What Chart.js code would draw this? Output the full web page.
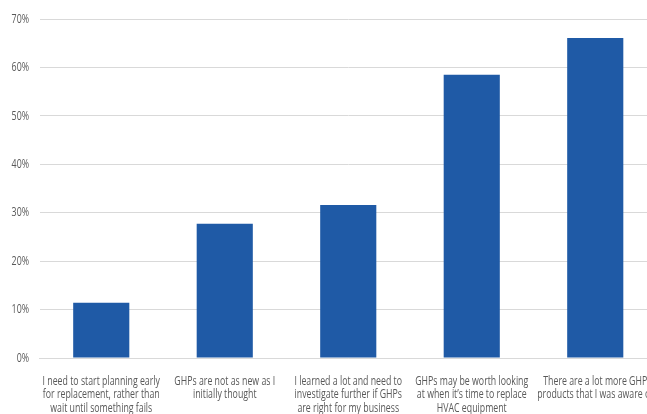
<!DOCTYPE html>
<html><head><meta charset="utf-8">
<script src="https://cdn.jsdelivr.net/npm/chart.js@4/dist/chart.umd.min.js"></script>
<style>
html,body{margin:0;padding:0;background:#fff;overflow:hidden;width:647px;height:414px;}
#wrap{position:absolute;left:0;top:0;width:657px;height:414px;}
</style></head>
<body><div id="wrap"><canvas id="c" width="657" height="414"></canvas></div>
<script>
const categories = [
  ["I need to start planning early","for replacement, rather than","wait until something fails"],
  ["GHPs are not as new as I","initially thought"],
  ["I learned a lot and need to","investigate further if GHPs","are right for my business"],
  ["GHPs may be worth looking","at when it\u2019s time to replace","HVAC equipment"],
  ["There are a lot more GHP","products that I was aware of"]
];
const values = [11.4, 27.7, 31.6, 58.5, 66.1];
const yTicks = [0,10,20,30,40,50,60,70];

const FONT = "'Open Sans', 'Noto Sans', sans-serif";
const X_SQUEEZE = 0.675;
const Y_SQUEEZE = 0.68;

const labelPlugin = {
  id: 'condensedLabels',
  afterDraw(chart) {
    const ctx = chart.ctx;
    const xs = chart.scales.x, ys = chart.scales.y;
    ctx.save();
    ctx.fillStyle = '#595959';
    ctx.font = '13px ' + FONT;
    ctx.textAlign = 'center';
    ctx.textBaseline = 'middle';
    categories.forEach((lines, i) => {
      const cx = xs.getPixelForTick(i);
      lines.forEach((ln, j) => {
        const cy = xs.top + 23 + j * 13.6;
        ctx.save();
        ctx.translate(cx, cy);
        ctx.scale(X_SQUEEZE, 1);
        ctx.fillText(ln, 0, 0);
        ctx.restore();
      });
    });
    ctx.font = '13px ' + FONT;
    ctx.textAlign = 'right';
    yTicks.forEach(v => {
      const py = ys.getPixelForValue(v);
      ctx.save();
      ctx.translate(29, py);
      ctx.scale(Y_SQUEEZE, 1);
      ctx.fillText(v + '%', 0, 0);
      ctx.restore();
    });
    ctx.restore();
  }
};

new Chart(document.getElementById('c'), {
  type: 'bar',
  data: { labels: categories.map(l => l.join(' ')), datasets: [{ data: values, backgroundColor: '#1f5aa6', categoryPercentage: 0.9, barPercentage: 0.505 }] },
  plugins: [labelPlugin],
  options: {
    responsive: false, animation: false,
    layout: { padding: { top: 19, left: 0, right: 0, bottom: 0 } },
    plugins: { legend: { display: false }, tooltip: { enabled: false } },
    scales: {
      x: {
        grid: { display: false },
        border: { color: '#d9d9d9', width: 1 },
        ticks: { display: false },
        afterFit: s => { s.height = 56; }
      },
      y: {
        min: 0, max: 70,
        afterBuildTicks: s => { s.ticks = yTicks.map(v => ({ value: v })); },
        grid: { color: '#d9d9d9', lineWidth: 1, drawTicks: false },
        border: { display: false },
        ticks: { display: false },
        afterFit: s => { s.width = 39.5; }
      }
    }
  }
});
</script></body></html>
